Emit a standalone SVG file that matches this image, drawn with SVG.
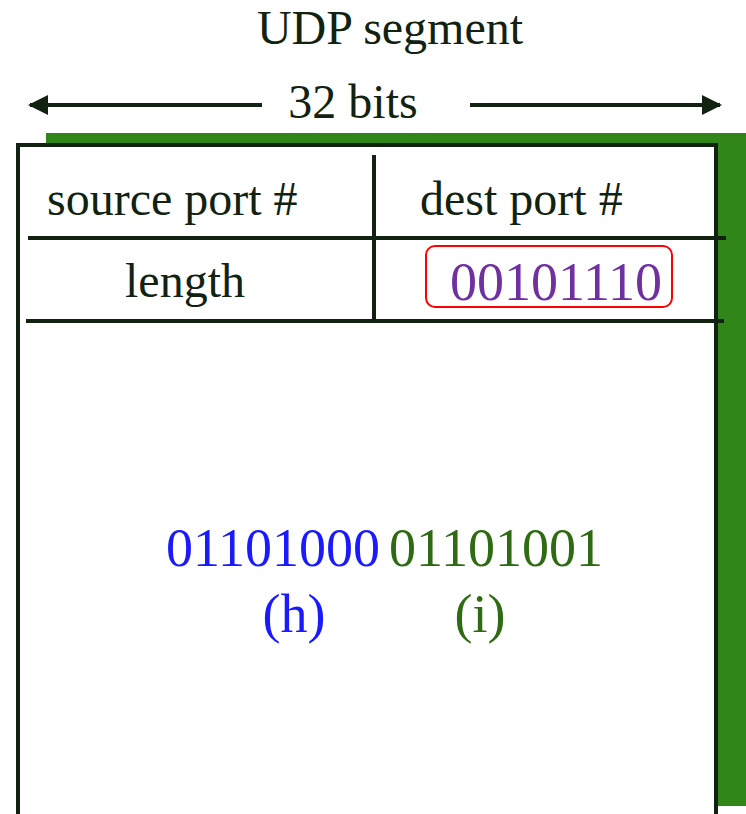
<svg xmlns="http://www.w3.org/2000/svg" width="746" height="814" viewBox="0 0 746 814">
<style>
text{font-family:"Liberation Serif","Times New Roman",serif;}
.lbl{font-size:48px;fill:#112211;}
.ln{stroke:#112211;stroke-width:4;}
.dig{font-size:54px;}
</style>
<defs>
<marker id="ah" viewBox="0 0 10 10" refX="9" refY="5" markerWidth="5" markerHeight="5" orient="auto-start-reverse">
<path d="M0,0 L10,5 L0,10 z" fill="#112211"/>
</marker>
</defs>
<rect width="746" height="814" fill="#ffffff"/>
<g id="title"><text class="lbl" x="390" y="44" text-anchor="middle" font-size="52">UDP segment</text></g>
<g id="width-label">
<text class="lbl" x="353" y="118" text-anchor="middle">32 bits</text>
</g>
<g id="connectors">
<line class="ln" x1="262" y1="105" x2="30" y2="105" marker-end="url(#ah)"/>
<line class="ln" x1="470" y1="105" x2="720" y2="105" marker-end="url(#ah)"/>
</g>
<g id="segment">
<rect x="46" y="133" width="700" height="673" fill="#318619"/>
<rect x="18" y="145" width="698" height="700" style="fill:#ffffff;stroke:#112211;stroke-width:4"/>
<line class="ln" x1="374" y1="155" x2="374" y2="321"/>
<line class="ln" x1="28" y1="238" x2="726" y2="238"/>
<line class="ln" x1="26" y1="321" x2="724" y2="321"/>
</g>
<g id="source-port"><text class="lbl" x="47" y="215">source port #</text></g>
<g id="dest-port"><text class="lbl" x="420" y="215">dest port #</text></g>
<g id="length"><text class="lbl" x="185" y="297" text-anchor="middle">length</text></g>
<g id="checksum">
<rect x="426" y="246" width="246" height="61" rx="9" fill="none" stroke="#ff0000" stroke-width="2"/>
<text class="dig" x="556" y="300" text-anchor="middle" fill="#7030a0">00101110</text>
</g>
<g id="data">
<text class="dig" x="273" y="566" text-anchor="middle" fill="#1a1aff">01101000</text>
<text class="dig" x="496" y="566" text-anchor="middle" fill="#2e6b12">01101001</text>
<text class="dig" x="294" y="632" text-anchor="middle" fill="#1a1aff">(h)</text>
<text class="dig" x="480" y="632" text-anchor="middle" fill="#2e6b12">(i)</text>
</g>
</svg>
